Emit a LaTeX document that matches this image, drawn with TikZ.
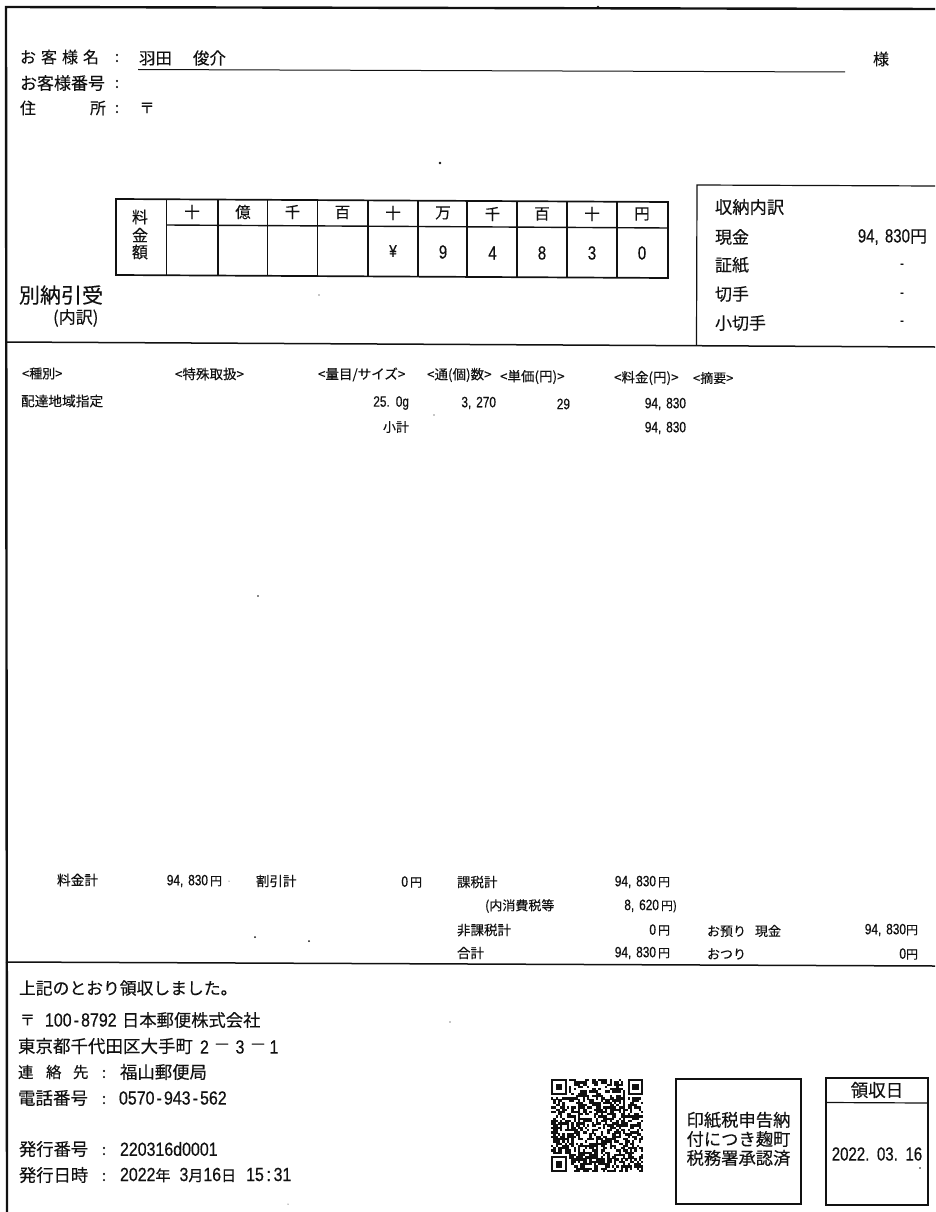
\documentclass[tikz,border=0pt]{standalone}
\usepackage{fontspec}
\setmainfont{Noto Sans CJK JP}[FakeBold=0.25]
\newfontfamily\dg[FakeStretch=.79,WordSpace=1.5,FakeBold=0.5]{Liberation Sans}
\newfontfamily\dgw[FakeStretch=.84,WordSpace=3,FakeBold=0.5]{Liberation Sans}
\definecolor{ink}{HTML}{111111}
\newcounter{tn}
\newcommand\TX[5]{\stepcounter{tn}\node[lbl,anchor=#3,font=\fontsize{#4}{#4}\selectfont] (t\thetn) at (#1,#2) {#5};}
\newcommand\gp{\hspace{5pt}}
\newcommand\hy{\kern.11em-\kern.11em}
\newcommand\cl{\kern.14em:\kern.14em}
\tikzset{
  lbl/.style={inner sep=0pt,outer sep=0pt,text=ink},
  frame/.style={draw=ink,line width=2.4pt},
  rule/.style={draw=ink,line width=1.5pt},
  cell/.style={draw=ink,line width=1.4pt},
  thin box/.style={draw=ink,line width=1.2pt},
  speck/.style={fill=ink,draw=none}
}
\begin{document}
\begin{tikzpicture}[x=1pt,y=-1pt]
\useasboundingbox (0,0) rectangle (935,1212);
\fill[white] (0,0) rectangle (935,1212);
% frame
\draw[frame] (935,9) -- (6,7) -- (7,1212);
\draw[rule] (6,342) -- (935,347);
\draw[rule] (6,962) -- (935,966);
% customer
\TX{20}{57}{west}{16}{お\gp 客\gp 様\gp 名}
\TX{117}{58}{center}{15}{:}
\TX{139}{58}{west}{16.5}{羽田\hspace{21pt}俊介}
\draw[draw=ink,line width=1pt] (138,69.5) -- (845,72);
\TX{881}{59}{center}{16}{様}
\TX{20}{83}{west}{17}{お客様番号}
\TX{117}{84}{center}{15}{:}
\TX{20}{108}{west}{16}{住}
\TX{90}{108}{west}{16}{所}
\TX{117}{109}{center}{15}{:}
\TX{147}{108}{center}{15}{〒}
% amount table
\draw[cell,line width=1.7pt] (116,199) -- (668,202) -- (668,278) -- (116,275) -- cycle;
\draw[cell] (166.5,225) -- (668,228);
\foreach \x/\a/\b in {166.5/199.3/275.3,218/199.6/275.6,267.5/199.8/275.8,317.5/200.1/276.1,368/200.4/276.4,418/200.7/276.7,467/200.9/276.9,517/201.2/277.2,567/201.5/277.5,617/201.7/277.7}
  \draw[cell] (\x,\a) -- (\x,\b);
\TX{140}{217}{center}{16}{料}
\TX{140}{235}{center}{16}{金}
\TX{140}{252}{center}{16}{額}
\TX{192}{212}{center}{15.5}{十}
\TX{243}{212}{center}{15.5}{億}
\TX{292.5}{212}{center}{15.5}{千}
\TX{342.5}{212.5}{center}{15.5}{百}
\TX{393}{213}{center}{15.5}{十}
\TX{443}{213}{center}{15.5}{万}
\TX{492.5}{214}{center}{15.5}{千}
\TX{542}{214}{center}{15.5}{百}
\TX{592}{214}{center}{15.5}{十}
\TX{642}{214}{center}{15.5}{円}
\TX{393}{251}{center}{17}{\dg ¥}
\TX{443}{252}{center}{19}{\dg 9}
\TX{492.5}{253}{center}{19}{\dg 4}
\TX{542}{253}{center}{19}{\dg 8}
\TX{592}{253}{center}{19}{\dg 3}
\TX{642}{253}{center}{19}{\dg 0}
% breakdown box
\draw[thin box] (935,186) -- (697,185) -- (696.5,345.5);
\TX{715}{207}{west}{17.3}{収納内訳}
\TX{715}{237}{west}{17}{現金}
\TX{715}{265}{west}{17}{証紙}
\TX{715}{294}{west}{17}{切手}
\TX{715}{323}{west}{17}{小切手}
\TX{927}{237}{east}{17}{{\dg\fontsize{19}{19}\selectfont 94, 830}円}
\TX{902}{266}{center}{15}{\dg -}
\TX{902}{295}{center}{15}{\dg -}
\TX{902}{323}{center}{15}{\dg -}
\TX{19}{295}{west}{21}{別納引受}
\TX{53}{318}{west}{17}{(内訳)}
% list
\TX{22}{373.5}{west}{13}{<種別>}
\TX{175}{374}{west}{13.5}{<特殊取扱>}
\TX{318}{374.5}{west}{13.5}{<量目/サイズ>}
\TX{427}{375}{west}{13.5}{<通(個)数>}
\TX{500}{377}{west}{13.5}{<単価(円)>}
\TX{614}{378}{west}{13.5}{<料金(円)>}
\TX{693}{378}{west}{13}{<摘要>}
\TX{21}{401}{west}{13.7}{配達地域指定}
\TX{409}{403}{east}{15}{\dg 25. 0g}
\TX{496}{403}{east}{15}{\dg 3, 270}
\TX{570}{404}{east}{15}{\dg 29}
\TX{686}{404}{east}{15}{\dg 94, 830}
\TX{409}{427}{east}{13}{小計}
\TX{686}{428}{east}{15}{\dg 94, 830}
% totals
\TX{57}{880}{west}{13.7}{料金計}
\TX{222}{881}{east}{12}{{\dg\fontsize{15}{15}\selectfont 94, 830}\,円}
\TX{256}{881}{west}{13.5}{割引計}
\TX{422}{882}{east}{12}{{\dg\fontsize{15}{15}\selectfont 0}\,円}
\TX{457}{882}{west}{13.5}{課税計}
\TX{670}{882}{east}{12}{{\dg\fontsize{15}{15}\selectfont 94, 830}\,円}
\TX{485}{906}{west}{13}{(内消費税等}
\TX{677}{906}{east}{12}{{\dg\fontsize{15}{15}\selectfont 8, 620}\,円)}
\TX{457}{930}{west}{13.5}{非課税計}
\TX{670}{930}{east}{12}{{\dg\fontsize{15}{15}\selectfont 0}\,円}
\TX{707}{931}{west}{13}{お預り\hspace{9pt}現金}
\TX{918}{930}{east}{12}{{\dg\fontsize{15}{15}\selectfont 94, 830}円}
\TX{457}{953}{west}{13.5}{合計}
\TX{670}{953}{east}{12}{{\dg\fontsize{15}{15}\selectfont 94, 830}\,円}
\TX{707}{954}{west}{13}{おつり}
\TX{918}{954}{east}{12}{{\dg\fontsize{15}{15}\selectfont 0}円}
% footer
\TX{19}{988}{west}{16.8}{上記のとおり領収しました。}
\TX{20}{1020}{west}{15}{〒}
\TX{45}{1020}{west}{19}{\dgw 100\hy 8792}
\TX{122}{1020}{west}{17.3}{日本郵便株式会社}
\TX{18}{1046}{west}{17.5}{東京都千代田区大手町}
\TX{200}{1047}{west}{19}{\dgw 2}
\TX{222}{1047}{center}{17}{－}
\TX{240}{1047}{center}{19}{\dgw 3}
\TX{258}{1047}{center}{17}{－}
\TX{274}{1047}{center}{19}{\dgw 1}
\TX{18}{1072}{west}{15.5}{連}
\TX{46}{1072}{west}{15.5}{絡}
\TX{73}{1072}{west}{15.5}{先}
\TX{104}{1074}{center}{15}{:}
\TX{120}{1072}{west}{17.4}{福山郵便局}
\TX{18}{1098}{west}{17.5}{電話番号}
\TX{104}{1100}{center}{15}{:}
\TX{119}{1098}{west}{19}{\dgw 0570\hy 943\hy 562}
\TX{19}{1149}{west}{17.3}{発行番号}
\TX{104}{1151}{center}{15}{:}
\TX{120}{1149}{west}{19}{\dgw 220316d0001}
\TX{19}{1175}{west}{17.3}{発行日時}
\TX{104}{1177}{center}{15}{:}
\TX{120}{1175}{west}{15}{{\dgw\fontsize{19}{19}\selectfont 2022}年\hspace{9pt}{\dgw\fontsize{19}{19}\selectfont 3}月{\dgw\fontsize{19}{19}\selectfont 16}日\hspace{10pt}{\dgw\fontsize{19}{19}\selectfont 15\cl 31}}
% QR
\pgfmathsetseed{4271}
\begin{scope}[shift={(551,1079)},x=2.25pt,y=-2.27pt]
  \foreach \i in {0,...,40}{\foreach \j in {0,...,40}{
    \pgfmathsetmacro\r{rnd}
    \pgfmathparse{(\r<0.55)&&!((\i<8&&\j<8)||(\i>32&&\j<8)||(\i<8&&\j>32))?1:0}
    \ifnum\pgfmathresult=1 \fill[ink] (\i,\j) rectangle ++(1.05,1.05);\fi
  }}
  \foreach \a/\b in {0/0,34/0,0/34}{
    \fill[ink] (\a,\b) rectangle ++(7,7);
    \fill[white] (\a+1,\b+1) rectangle ++(5,5);
    \fill[ink] (\a+2,\b+2) rectangle ++(3,3);
  }
\end{scope}
% stamps
\draw[thin box] (676,1079) rectangle (801,1204);
\TX{738.5}{1120}{center}{17.3}{印紙税申告納}
\TX{738.5}{1139}{center}{17.3}{付につき麹町}
\TX{738.5}{1158}{center}{17.3}{税務署承認済}
\draw[thin box] (826,1078) rectangle (928,1205);
\draw[thin box] (826,1102.5) -- (928,1103);
\TX{877}{1090}{center}{17.5}{領収日}
\TX{877}{1154}{center}{19}{\dg 2022. 03. 16}
% specks
\foreach \x/\y/\s in {440/163/1.3,319/295/.6,258/596/.9,434/415/.6,255/937/1,309/941/1,450/1022/.6,288/1204/.5,598/7/1.3,606/8/.8,920/1168/.8,229/881/.5}
  \fill[speck] (\x,\y) circle (\s);
\end{tikzpicture}
\end{document}
